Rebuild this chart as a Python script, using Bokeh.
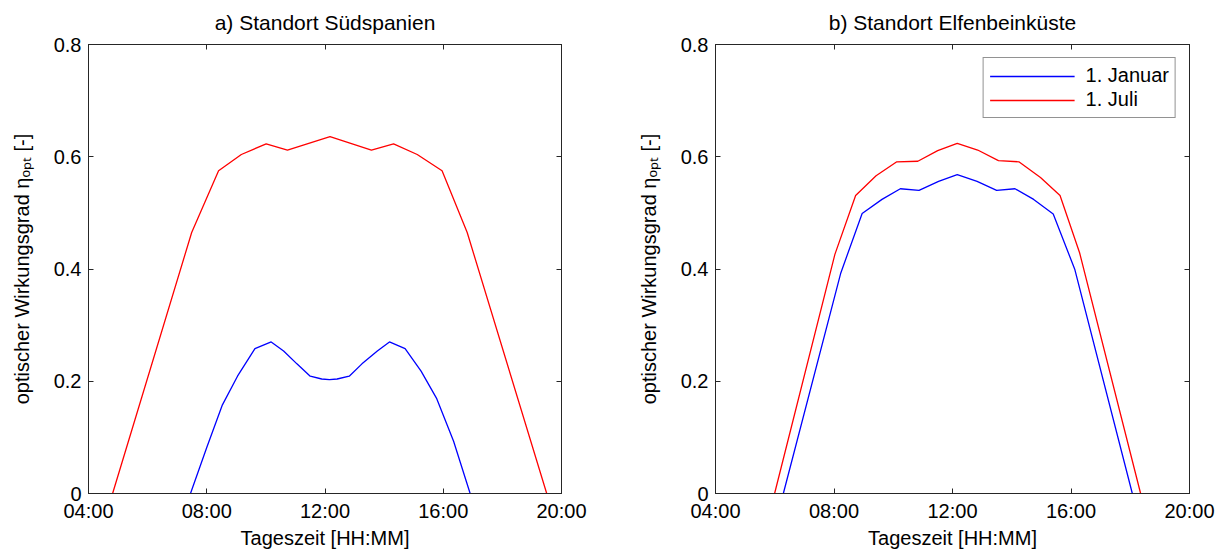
from bokeh.plotting import figure
from bokeh.models import Range1d, FixedTicker, LinearAxis, Legend, LegendItem
from bokeh.layouts import row
from bokeh.embed import file_html
from bokeh.resources import INLINE

# ---------------- data (hours of day, optical efficiency) ----------------
spain_jul_h = [4.815, 7.49, 8.40, 9.17, 10.01, 10.73, 12.17, 13.57, 14.32, 15.12, 15.96, 16.81, 19.50]
spain_jul_v = [0.0, 0.465, 0.575, 0.604, 0.623, 0.612, 0.636, 0.612, 0.623, 0.604, 0.575, 0.465, 0.0]

spain_jan_h = [7.45, 8.00, 8.53, 9.04, 9.63, 10.18, 10.60, 11.05, 11.50, 11.89, 12.15, 12.41,
               12.82, 13.25, 13.77, 14.18, 14.71, 15.25, 15.77, 16.35, 16.91]
spain_jan_v = [0.0, 0.082, 0.158, 0.209, 0.258, 0.270, 0.254, 0.231, 0.209, 0.204, 0.203, 0.204,
               0.209, 0.231, 0.254, 0.270, 0.258, 0.218, 0.170, 0.093, 0.0]

ci_jul_h = [5.995, 8.03, 8.73, 9.42, 10.12, 10.83, 11.50, 12.16, 12.85, 13.55, 14.24, 14.97, 15.63, 16.29, 18.35]
ci_jul_v = [0.0, 0.426, 0.531, 0.566, 0.591, 0.592, 0.611, 0.624, 0.612, 0.593, 0.591, 0.563, 0.531, 0.429, 0.0]

ci_jan_h = [6.29, 8.23, 8.95, 9.62, 10.24, 10.87, 11.53, 12.16, 12.83, 13.49, 14.11, 14.74, 15.40, 16.13, 18.07]
ci_jan_v = [0.0, 0.393, 0.499, 0.524, 0.543, 0.540, 0.556, 0.568, 0.556, 0.540, 0.543, 0.524, 0.498, 0.399, 0.0]

x_ticks = [4, 8, 12, 16, 20]
x_tick_labels = ["04:00", "08:00", "12:00", "16:00", "20:00"]
y_ticks = [0, 0.2, 0.4, 0.6, 0.8]
y_tick_labels = ["0", "0.2", "0.4", "0.6", "0.8"]

titles = ["a) Standort Südspanien", "b) Standort Elfenbeinküste"]
x_label = "Tageszeit [HH:MM]"
y_label = "optischer Wirkungsgrad ηₒₚₜ [-]"
legend_labels = ["1. Januar", "1. Juli"]

# ---------------- style ----------------
FONT = "Liberation Sans"
AX_COL = "#262626"
BLUE = "#0000ff"
RED = "#ff0000"
TICK_FS = 20
LAB_FS = 20
TITLE_FS = 21


def make_fig(title, width, bl, br):
    p = figure(width=width, height=551, output_backend="svg", toolbar_location=None,
               x_range=Range1d(4, 20), y_range=Range1d(0, 0.8),
               min_border_left=bl, min_border_right=br, min_border_top=44, min_border_bottom=56,
               x_axis_location=None, y_axis_location=None)
    p.title.text = title
    p.title.align = "center"
    p.title.vertical_align = "top"
    p.title.text_line_height = 0.8
    p.title.text_font = FONT
    p.title.text_font_size = f"{TITLE_FS}px"
    p.title.text_font_style = "normal"
    p.title.text_color = "#000000"
    p.title.standoff = 18
    p.xgrid.visible = False
    p.ygrid.visible = False
    p.outline_line_color = AX_COL
    p.outline_line_width = 1
    p.background_fill_color = "white"
    p.border_fill_color = "white"

    def style(ax, show):
        ax.axis_line_color = AX_COL
        ax.major_tick_line_color = AX_COL
        ax.major_tick_in = 5
        ax.major_tick_out = 0
        ax.minor_tick_line_color = None
        ax.major_label_text_font = FONT
        ax.major_label_text_font_size = f"{TICK_FS}px" if show else "1px"
        ax.major_label_text_color = "#000000" if show else None
        ax.axis_label_text_font = FONT
        ax.axis_label_text_font_size = f"{LAB_FS}px"
        ax.axis_label_text_font_style = "normal"
        ax.axis_label_text_color = "#000000"

    xb = LinearAxis(ticker=FixedTicker(ticks=x_ticks),
                    major_label_overrides={t: l for t, l in zip(x_ticks, x_tick_labels)})
    style(xb, True)
    xb.axis_label = x_label
    xb.major_label_standoff = 6
    xb.axis_label_standoff = 2
    p.add_layout(xb, "below")

    yl = LinearAxis(ticker=FixedTicker(ticks=y_ticks),
                    major_label_overrides={t: l for t, l in zip(y_ticks, y_tick_labels)})
    style(yl, True)
    yl.axis_label = y_label
    yl.major_label_standoff = 7
    yl.axis_label_standoff = 18
    p.add_layout(yl, "left")

    xt = LinearAxis(ticker=FixedTicker(ticks=x_ticks))
    style(xt, False)
    xt.major_label_standoff = 0
    p.add_layout(xt, "above")

    yr = LinearAxis(ticker=FixedTicker(ticks=y_ticks))
    style(yr, False)
    yr.major_label_standoff = 0
    p.add_layout(yr, "right")
    return p


p1 = make_fig(titles[0], 608, 88, 47)
p1.line(spain_jan_h, spain_jan_v, line_color=BLUE, line_width=1.3)
p1.line(spain_jul_h, spain_jul_v, line_color=RED, line_width=1.3)

p2 = make_fig(titles[1], 612, 107, 31)
r_jan = p2.line(ci_jan_h, ci_jan_v, line_color=BLUE, line_width=1.3)
r_jul = p2.line(ci_jul_h, ci_jul_v, line_color=RED, line_width=1.3)

legend = Legend(items=[LegendItem(label=legend_labels[0], renderers=[r_jan]),
                       LegendItem(label=legend_labels[1], renderers=[r_jul])],
                location="top_right")
legend.margin = 13
legend.padding = 6
legend.spacing = 1
legend.glyph_width = 85
legend.glyph_height = 20
legend.label_height = 20
legend.label_standoff = 11
legend.label_text_font = FONT
legend.label_text_font_size = f"{LAB_FS}px"
legend.label_text_color = "#000000"
legend.border_line_color = AX_COL
legend.border_line_width = 1
legend.background_fill_color = "white"
legend.background_fill_alpha = 1.0
p2.add_layout(legend)

layout = row(p1, p2)
open("out.html", "w").write(file_html(layout, INLINE))
